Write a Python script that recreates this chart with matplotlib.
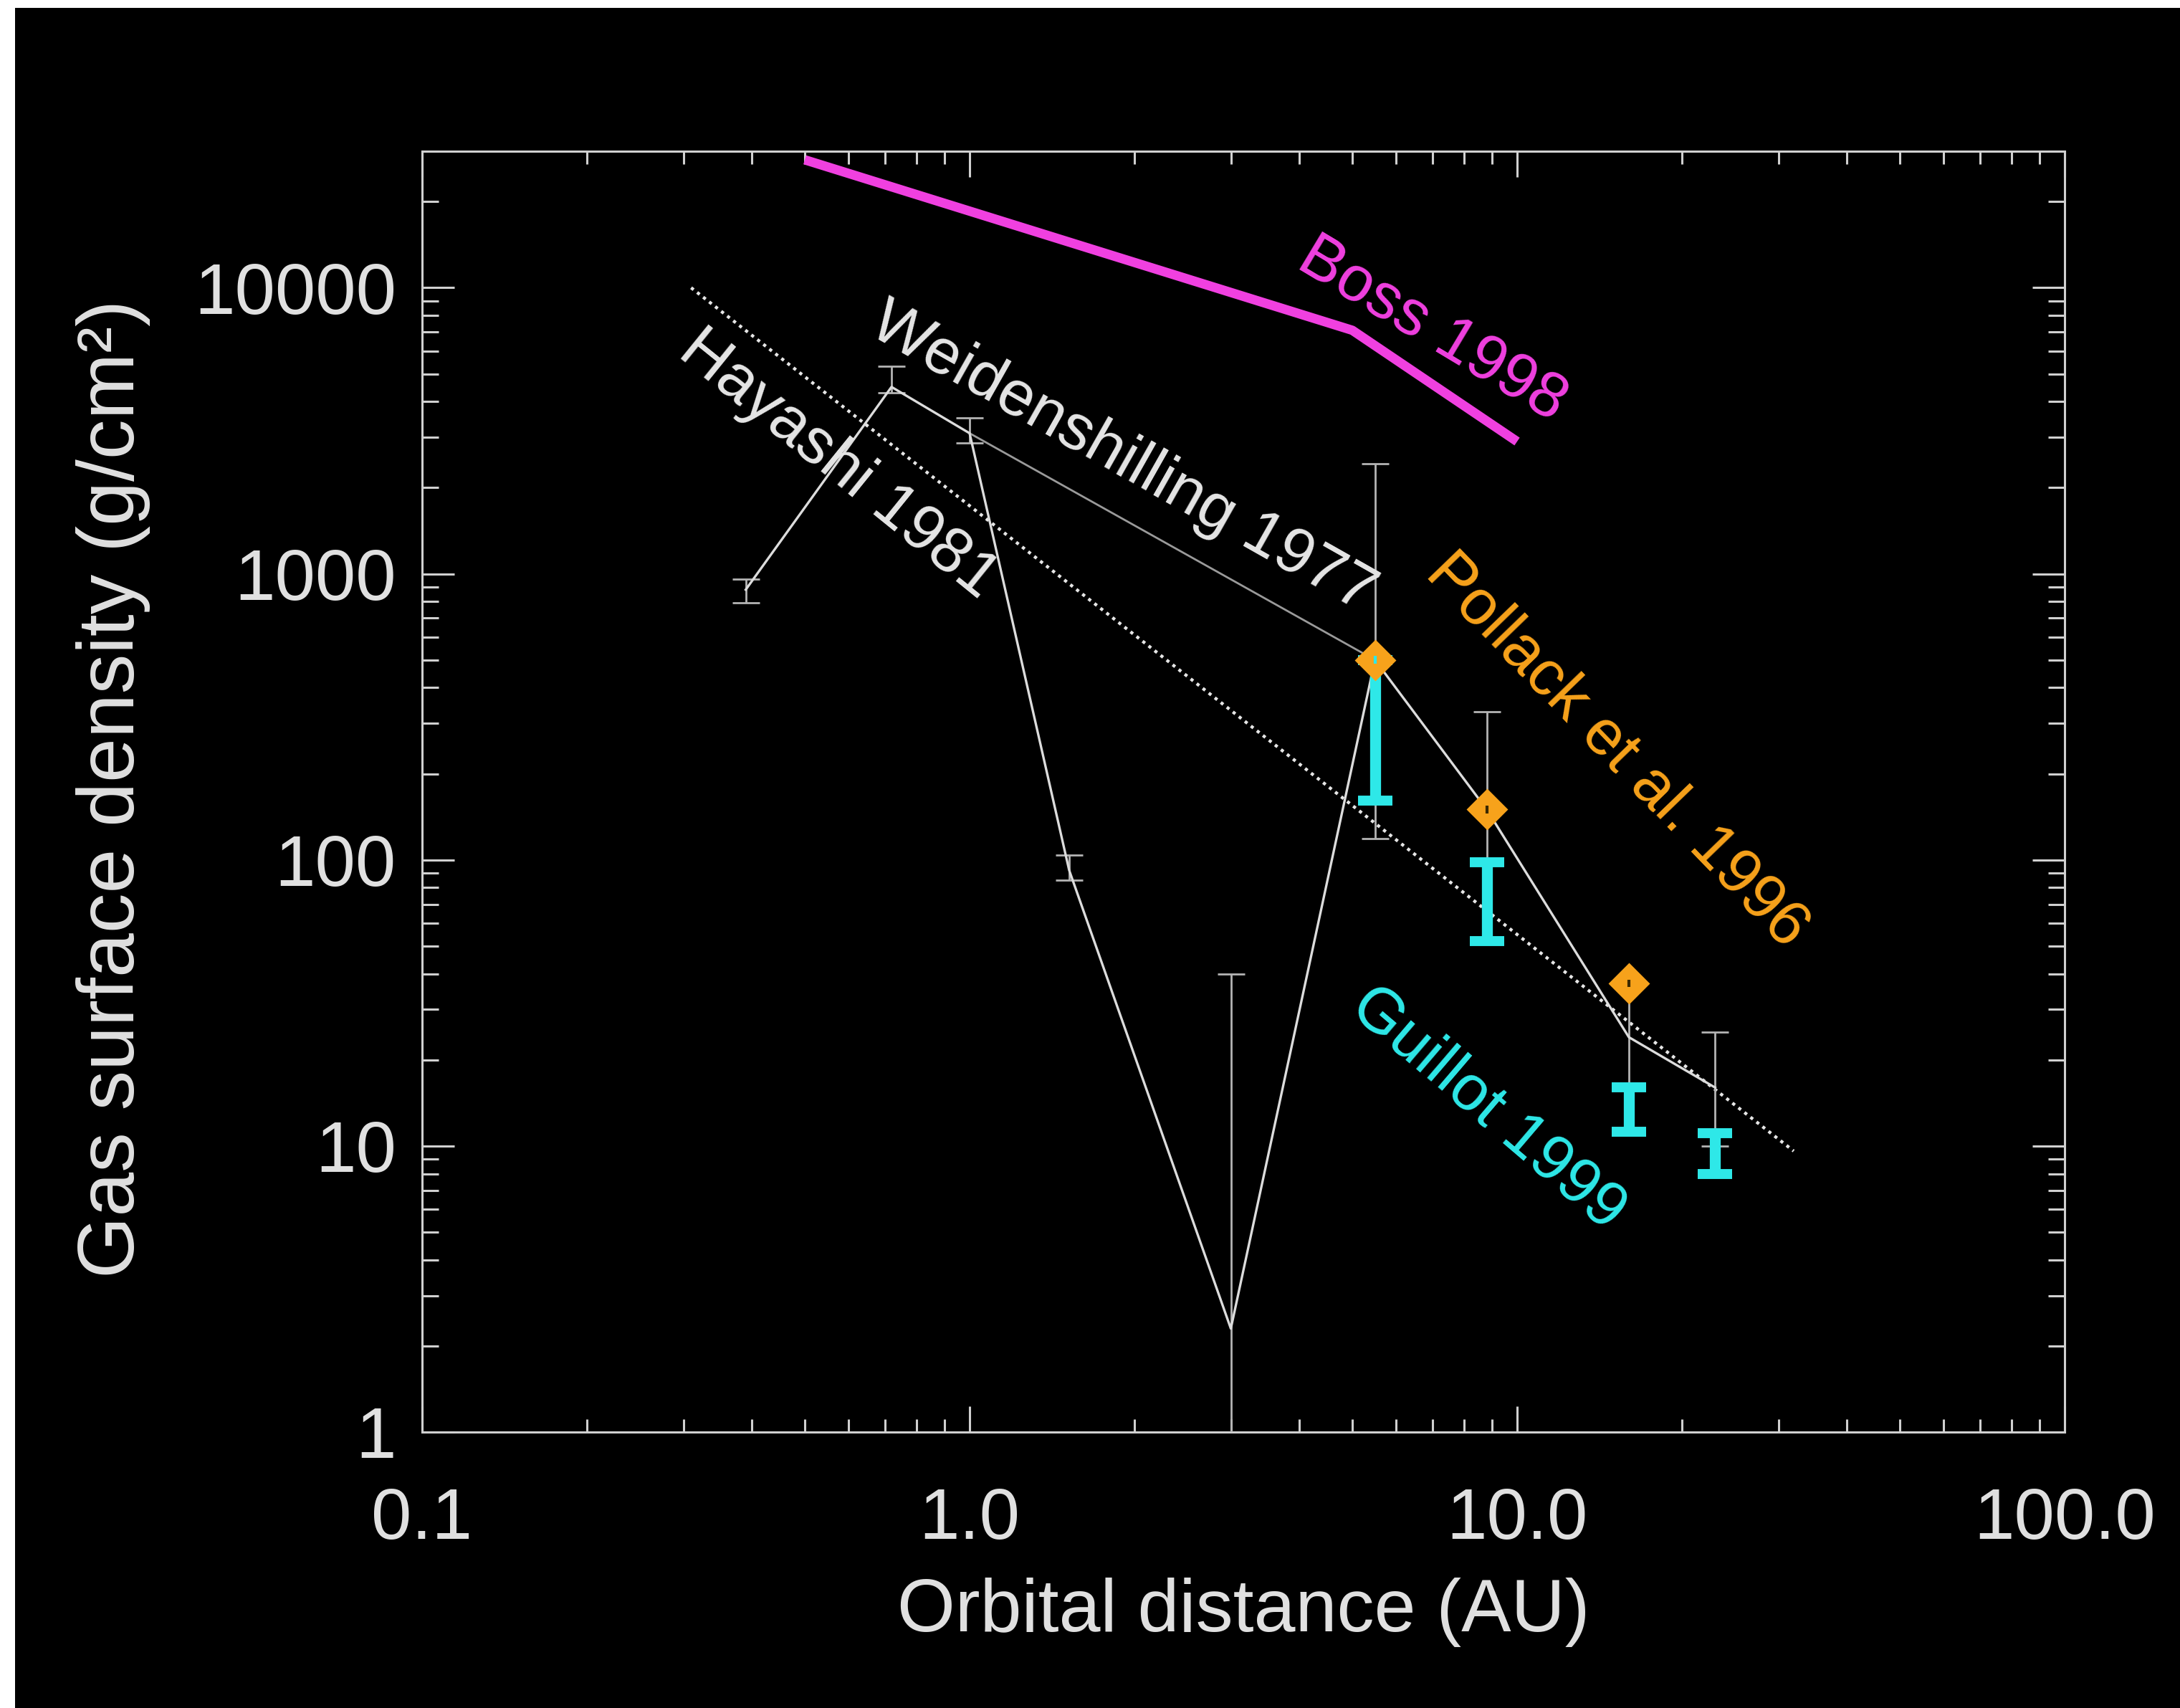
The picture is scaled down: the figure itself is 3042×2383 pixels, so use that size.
import matplotlib
matplotlib.use("Agg")
import numpy as np
import matplotlib.pyplot as plt
from matplotlib.patches import Rectangle
from matplotlib.ticker import NullFormatter

plt.rcParams['font.family'] = ['Liberation Sans', 'DejaVu Sans']

# Weidenschilling 1977: planets with error bars
weid_x = [0.39, 0.72, 1.0, 1.52, 3.0, 5.5, 8.8, 16.0, 23.0]
weid_y = [880, 4500, 3100, 92, 2.3, 500, 150, 24, 16]
weid_lo = [790, 4300, 2860, 85, 0.01, 119, 52, 16, 10]
weid_hi = [960, 5300, 3500, 104, 40, 2420, 330, 37, 25]

# smooth Weidenschilling curve from Earth to Jupiter
weid_fit_x = [1.0, 5.5]
weid_fit_y = [3100, 500]

# Hayashi 1981 power law (end points)
hayashi_x = [0.31, 32]
hayashi_y = [10000, 9.6]

# Boss 1998
boss_x = [0.5, 5.0, 10.0]
boss_y = [28000, 7100, 2900]

# Pollack et al. 1996
pollack_x = [5.5, 8.8, 16.0]
pollack_y = [500, 150, 37]

# Guillot 1999 ranges
guillot_x = [5.5, 8.8, 16.0, 23.0]
guillot_lo = [161, 52, 11.2, 8.0]
guillot_hi = [500, 98, 16.0, 11.1]

x_ticks = [0.1, 1, 10, 100]
x_tick_labels = ['0.1', '1.0', '10.0', '100.0']
y_ticks = [1, 10, 100, 1000, 10000]
y_tick_labels = ['1', '10', '100', '1000', '10000']

W, H = 3042, 2383
fig = plt.figure(figsize=(W / 100, H / 100), dpi=100)
fig.patch.set_facecolor('white')
fig.add_artist(Rectangle((21 / W, 0), 1, 1 - 11 / H, transform=fig.transFigure,
                         facecolor='black', edgecolor='none', zorder=-10))

ax = fig.add_axes([589 / W, 1 - 1998 / H, (2881 - 589) / W, (1998 - 211) / H])
ax.set_facecolor('black')
ax.set_xscale('log')
ax.set_yscale('log')
ax.set_xlim(0.1, 100)
ax.set_ylim(1, 3e4)

axcol = '#d0d0d0'
white = '#e6e6e6'
orange = '#f7a21b'
cyan = '#2ee8e8'
magenta = '#f040e0'

# Hayashi dotted line
ax.plot(hayashi_x, hayashi_y, color=white, lw=3.2, ls=(0, (1, 1.4)),
        dash_capstyle='butt', zorder=2)

# Weidenschilling
ax.plot(weid_fit_x, weid_fit_y, color='#9a9a9a', lw=2, zorder=2)
wy = np.array(weid_y)
werr = [wy - np.array(weid_lo), np.array(weid_hi) - wy]
ax.errorbar(weid_x, weid_y, yerr=werr, fmt='none', ecolor='#b4b4b4',
            elinewidth=2, capsize=14, capthick=2, zorder=3)
ax.plot(weid_x, weid_y, color='#dcdcdc', lw=2.4, zorder=3)

# Boss
ax.plot(boss_x, boss_y, color=magenta, lw=9.4, solid_capstyle='butt',
        solid_joinstyle='round', zorder=4)

# Guillot
glo = np.array(guillot_lo)
ax.errorbar(guillot_x, guillot_lo, yerr=[np.zeros_like(glo), np.array(guillot_hi) - glo],
            fmt='none', ecolor=cyan, elinewidth=11, capsize=17, capthick=10,
            zorder=5)

# Pollack
ax.plot(pollack_x, pollack_y, ls='none', marker='D', ms=27, mfc=orange,
        mec=orange, mew=2, zorder=6)
ax.scatter(pollack_x, pollack_y, marker='|', s=60, linewidths=3,
           c=[cyan, '#3a2800', '#3a2800'], zorder=7)

# ticks and axes
ax.set_xticks(x_ticks, labels=x_tick_labels)
ax.set_yticks(y_ticks, labels=y_tick_labels)
ax.xaxis.set_minor_formatter(NullFormatter())
ax.yaxis.set_minor_formatter(NullFormatter())
ax.tick_params(which='both', direction='in', top=True, right=True,
               color=axcol, width=2.2, labelsize=73, labelcolor='#e0e0e0')
ax.tick_params(axis='x', which='major', length=26, pad=55)
ax.tick_params(axis='x', which='minor', length=13)
ax.tick_params(axis='y', which='major', length=32.4, pad=26)
ax.tick_params(axis='y', which='minor', length=16.6)
for s in ax.spines.values():
    s.set_color(axcol)
    s.set_linewidth(2.2)

fig.text(1735 / W, 1 - 2250 / H, 'Orbital distance (AU)', ha='center',
         va='center', fontsize=75, color='#e0e0e0')
fig.text(158 / W, 1 - 1100 / H, 'Gas surface density (g/cm²)', ha='center',
         va='center', rotation=90, fontsize=80, color='#e0e0e0')

# curve labels
lab = dict(ha='center', va='center', rotation_mode='anchor', fontsize=64)
ax.text(7.0, 7100, 'Boss 1998', color=magenta, rotation=-31, **lab)
ax.text(1.9, 2525, 'Weidenshilling 1977', color=white, rotation=-29.5, **lab)
ax.text(0.576, 2410, 'Hayashi 1981', color=white, rotation=-39, **lab)
ax.text(15.2, 240, 'Pollack et al. 1996', color=orange, rotation=-46, **lab)
ax.text(8.84, 13.5, 'Guillot 1999', color=cyan, rotation=-40.5, **lab)

fig.savefig('out.png', dpi=100, facecolor=fig.get_facecolor())
